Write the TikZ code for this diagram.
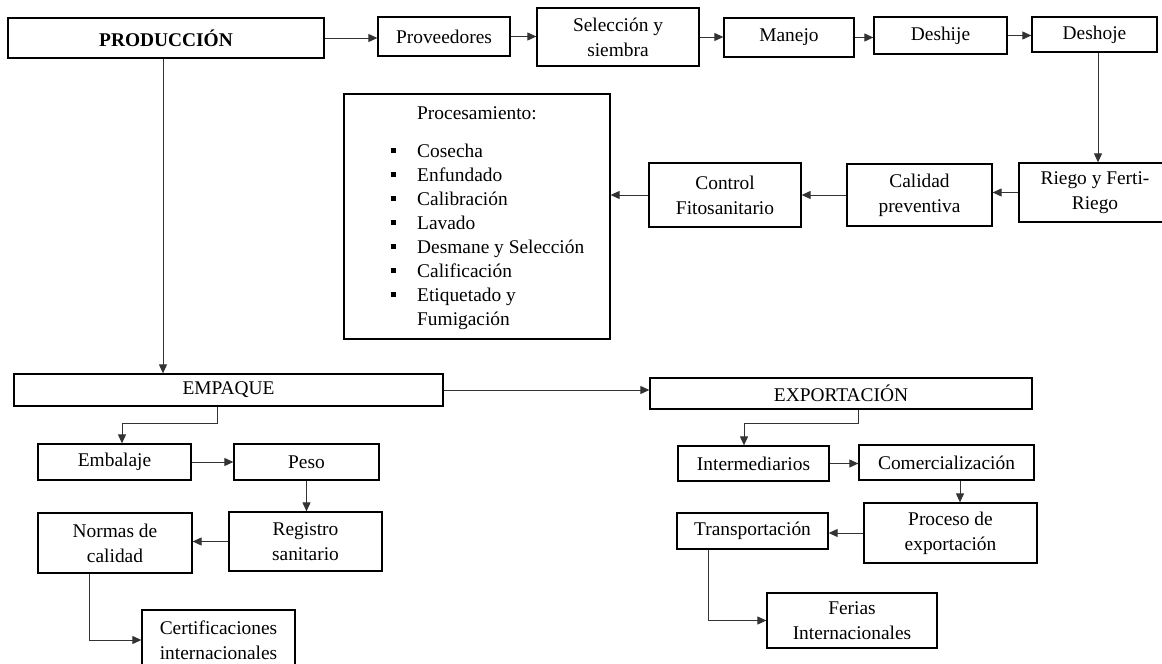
\documentclass[tikz,border=0pt]{standalone}
\usepackage{fontspec}
\setmainfont{Liberation Serif}
\usetikzlibrary{arrows.meta}
\tikzset{
  box/.style={draw=black, line width=1.3pt, fill=white, inner sep=2pt, align=center,
    font=\fontsize{19.4}{25}\selectfont},
  ptext/.style={inner sep=0pt, font=\fontsize{19.4}{24}\selectfont},
  conn/.style={draw=black!80, line width=1pt, -{Triangle[length=9pt,width=8pt]}},
  plain/.style={draw=black!80, line width=1pt},
}
\newcommand{\blt}{\llap{\rule[4pt]{4.5pt}{5pt}\hspace{21.5pt}}}
\begin{document}
\begin{tikzpicture}[x=1pt,y=-1pt]
\useasboundingbox (0,0) rectangle (1162,664);
\clip (0,0) rectangle (1162,664);
\fill[white] (0,0) rectangle (1162,664);
% top row
\node[box, minimum width=316pt, minimum height=40pt] (prod) at (166,38) {\textbf{PRODUCCIÓN}};
\node[box, minimum width=132pt, minimum height=39pt] (prov) at (444,36.5) {Proveedores};
\node[box, minimum width=162pt, minimum height=58pt] (sel) at (618,37) {Selección y\\siembra};
\node[box, minimum width=130pt, minimum height=39pt] (man) at (789,37.5) {Manejo};
\node[box, minimum width=133pt, minimum height=37pt] (desj) at (940.5,35.5) {Deshije};
\node[box, minimum width=125pt, minimum height=35pt] (desh) at (1094.5,34.5) {Deshoje};
% second row
\node[box, minimum width=152pt, minimum height=59pt] (riego) at (1095,192.5) {Riego y Ferti-\\Riego};
\node[box, minimum width=145pt, minimum height=62pt] (cal) at (919.5,195) {Calidad\\preventiva};
\node[box, minimum width=152pt, minimum height=64pt] (ctrl) at (725,195) {Control\\Fitosanitario};
\node[box, minimum width=266pt, minimum height=245pt] (proc) at (477,216.5) {};
\node[ptext, anchor=base west] (ptitle) at (417,119) {Procesamiento:};
\node[ptext, anchor=base west] (p1) at (417,157) {\blt Cosecha};
\node[ptext, anchor=base west] (p2) at (417,181) {\blt Enfundado};
\node[ptext, anchor=base west] (p3) at (417,205) {\blt Calibración};
\node[ptext, anchor=base west] (p4) at (417,229) {\blt Lavado};
\node[ptext, anchor=base west] (p5) at (417,253) {\blt Desmane y Selección};
\node[ptext, anchor=base west] (p6) at (417,277) {\blt Calificación};
\node[ptext, anchor=base west] (p7) at (417,301) {\blt Etiquetado y};
\node[ptext, anchor=base west] (p8) at (417,325) {Fumigación};
% lower left
\node[box, minimum width=429pt, minimum height=32pt] (emp) at (228.5,390) {EMPAQUE};
\node[box, minimum width=153pt, minimum height=36pt] (emb) at (114.5,462) {Embalaje};
\node[box, minimum width=145pt, minimum height=36pt] (peso) at (306.5,462) {Peso};
\node[box, minimum width=153pt, minimum height=59pt] (reg) at (305.5,541.5) {Registro\\sanitario};
\node[box, minimum width=154pt, minimum height=60pt] (norm) at (115,543) {Normas de\\calidad};
\node[box, minimum width=153pt, minimum height=60pt] (cert) at (218.5,640) {Certificaciones\\internacionales};
% lower right
\node[box, minimum width=382pt, minimum height=31pt] (exp) at (841,393.5) {EXPORTACIÓN};
\node[box, minimum width=151pt, minimum height=35pt] (inter) at (753.5,463.5) {Intermediarios};
\node[box, minimum width=175pt, minimum height=35pt] (com) at (946.5,462.5) {Comercialización};
\node[box, minimum width=173pt, minimum height=60pt] (proc2) at (950.5,533) {Proceso de\\exportación};
\node[box, minimum width=151pt, minimum height=36pt] (trans) at (752.5,531) {Transportación};
\node[box, minimum width=170pt, minimum height=55pt] (fer) at (852,620.5) {Ferias\\Internacionales};
% connectors top
\draw[conn] (prod.east) -- (prod.east -| prov.west);
\draw[conn] (prov.east) -- (prov.east -| sel.west);
\draw[conn] (sel.east) -- (sel.east -| man.west);
\draw[conn] (man.east) -- (man.east -| desj.west);
\draw[conn] (desj.east) -- (desj.east -| desh.west);
\draw[conn] ([xshift=3pt]riego.north |- desh.south) -- ([xshift=3pt]riego.north);
\draw[conn] (riego.west) -- (riego.west -| cal.east);
\draw[conn] (cal.west) -- (cal.west -| ctrl.east);
\draw[conn] (ctrl.west) -- (ctrl.west -| proc.east);
\draw[conn] ([xshift=-3pt]prod.south) -- ([xshift=-3pt]prod.south |- emp.north);
% connectors lower left
\draw[conn] (emp.east) -- (emp.east -| exp.west);
\draw[conn] ([xshift=-11.5pt]emp.south) -- ++(0,17) -| ([xshift=7.5pt]emb.north);
\draw[conn] (emb.east) -- (emb.east -| peso.west);
\draw[conn] (peso.south) -- (peso.south |- reg.north);
\draw[conn] (reg.west) -- (reg.west -| norm.east);
\draw[conn] ([xshift=-26pt]norm.south) |- (cert.west);
% connectors lower right
\draw[conn] ([xshift=17pt]exp.south) -- ++(0,14) -| ([xshift=-9.5pt]inter.north);
\draw[conn] (inter.east) -- (inter.east -| com.west);
\draw[conn] ([xshift=13.5pt]com.south) -- ([xshift=13.5pt]com.south |- proc2.north);
\draw[conn] (proc2.west) -- (proc2.west -| trans.east);
\draw[conn] ([xshift=-44.5pt]trans.south) |- (fer.west);
\end{tikzpicture}
\end{document}
